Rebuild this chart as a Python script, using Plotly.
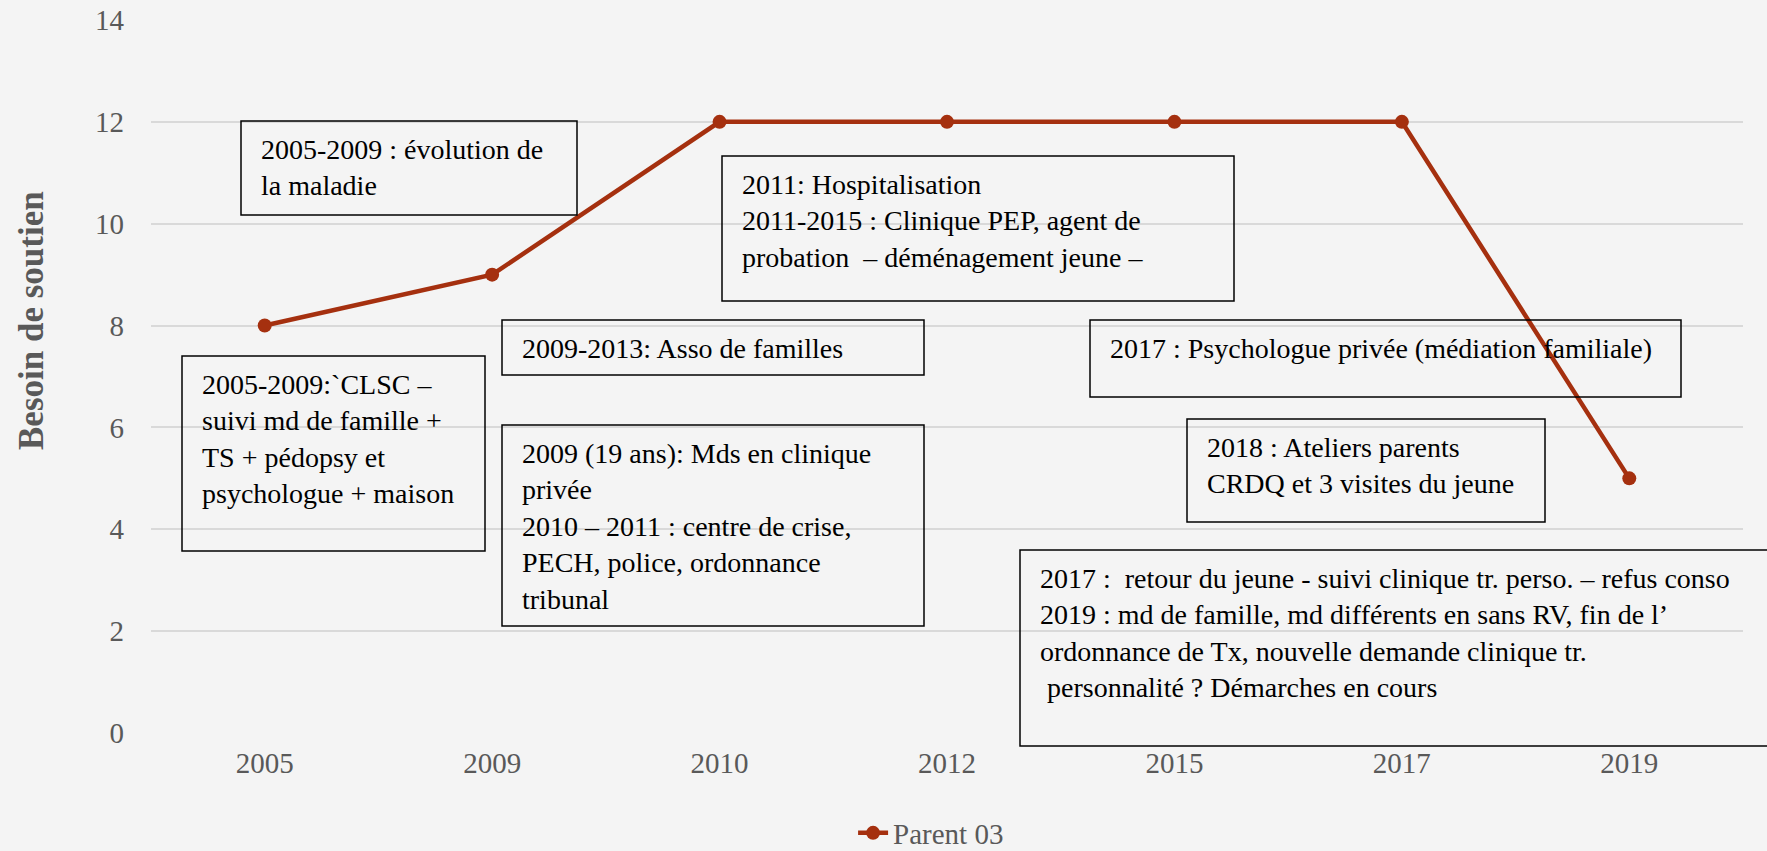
import plotly.graph_objects as go

#--- donnees
annees = ["2005", "2009", "2010", "2012", "2015", "2017", "2019"]
besoin = [8, 9, 12, 12, 12, 12, 5]
serie = "Parent 03"
titre_y = "Besoin de soutien"

notes = [
    "2005-2009 : évolution de<br>la maladie",
    "2005-2009:`CLSC –<br>suivi md de famille +<br>TS + pédopsy et<br>psychologue + maison",
    "2009-2013: Asso de familles",
    "2009 (19 ans): Mds en clinique<br>privée<br>2010 – 2011 : centre de crise,<br>PECH, police, ordonnance<br>tribunal",
    "2011: Hospitalisation<br>2011-2015 : Clinique PEP, agent de<br>probation \u00a0– déménagement jeune –",
    "2017 : Psychologue privée (médiation familiale)",
    "2018 : Ateliers parents<br>CRDQ et 3 visites du jeune",
    "2017 : \u00a0retour du jeune - suivi clinique tr. perso. – refus conso<br>2019 : md de famille, md différents en sans RV, fin de l’<br>ordonnance de Tx, nouvelle demande clinique tr.<br>\u00a0personnalité ? Démarches en cours",
]

#--- mise en page (pixels)
W, H = 1767, 851
L, R, T, B = 151, 24, 20, 118
pw = W - L - R
ph = H - T - B

def px(x):
    return (x - L) / pw

def py(y):
    return (H - B - y) / ph

# boites: gauche, haut, droite, bas
boites = [
    (241, 121, 577, 215),
    (182, 356, 485, 551),
    (502, 320, 924, 375),
    (502, 425, 924, 626),
    (722, 156, 1234, 301),
    (1090, 320, 1681, 397),
    (1187, 419, 1545, 522),
    (1020, 550, 1772, 746),
]

police = "Liberation Serif"
rouge = "#A5300F"
gris = "#595959"

fig = go.Figure()
fig.add_trace(go.Scatter(x=annees, y=besoin, mode="lines+markers", name=serie,
                         line=dict(color=rouge, width=4.5),
                         marker=dict(color=rouge, size=14)))

for (x0, y0, x1, y1), txt in zip(boites, notes):
    fig.add_shape(type="rect", xref="paper", yref="paper",
                  x0=px(x0), x1=px(x1), y0=py(y0), y1=py(y1),
                  line=dict(color="black", width=1.5), fillcolor="rgba(0,0,0,0)")
    fig.add_annotation(xref="paper", yref="paper", x=px(x0 + 18), y=py(y0 + 11),
                       xanchor="left", yanchor="top", align="left", showarrow=False,
                       text=txt, font=dict(family=police, size=28, color="black"))

# titre de l'axe y (pas centre sur le graphique dans l'original)
fig.add_annotation(xref="paper", yref="paper", x=px(31), y=py(321), textangle=-90,
                   xanchor="center", yanchor="middle", showarrow=False,
                   text="<b>" + titre_y + "</b>", font=dict(family=police, size=35, color=gris))

fig.update_layout(
    width=W, height=H,
    margin=dict(l=L, r=R, t=T, b=B, autoexpand=False),
    paper_bgcolor="#f4f4f4", plot_bgcolor="#f4f4f4",
    font=dict(family=police, size=29, color=gris),
    showlegend=True,
    legend=dict(orientation="h", x=0.49, xanchor="center", y=py(833), yanchor="middle",
                font=dict(family=police, size=29, color=gris), bgcolor="rgba(0,0,0,0)"),
)
fig.update_xaxes(type="category", range=[-0.5, 6.5], showgrid=False, zeroline=False,
                 showline=False, ticks="", tickfont=dict(size=29, color=gris),
                 ticklabelstandoff=10, automargin=False)
fig.update_yaxes(range=[0, 14], dtick=2, showgrid=True, gridcolor="#d9d9d9", gridwidth=1.5,
                 zeroline=False, showline=False, ticks="", tickfont=dict(size=29, color=gris),
                 ticklabelstandoff=26, automargin=False)

fig.write_html("out.html", config={"displayModeBar": False},
               post_script="document.body.style.margin='0';")
